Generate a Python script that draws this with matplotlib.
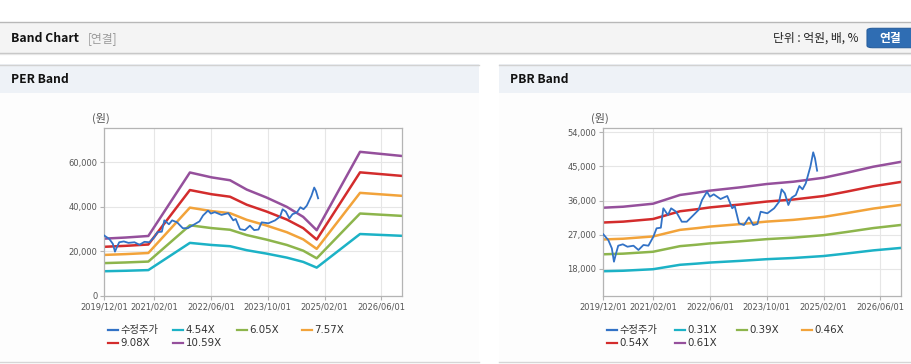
"""PER / PBR band chart (recreated)."""

import matplotlib

matplotlib.use("Agg")
import matplotlib.pyplot as plt
from matplotlib.lines import Line2D
from matplotlib.patches import FancyBboxPatch, Rectangle
from matplotlib.ticker import FuncFormatter

W, H = 912, 364

# x axis is months since 2019/12/01
date_ticks = [0, 14, 30, 46, 62, 78]
date_labels = ["2019/12/01", "2021/02/01", "2022/06/01", "2023/10/01", "2025/02/01", "2026/06/01"]
x_end = 83.9

# adjusted close (수정주가)
price_month = [0, 1.4, 2.4, 3.0, 3.6, 4.2, 5.5, 6.8, 8.5, 9.9, 11.3, 12.7, 14.1, 15.0,
               16.2, 16.9, 18.2, 19.1, 20.5, 22.1, 23.5, 25.4, 26.8, 27.8, 29.2, 30.0,
               31.1, 33.0, 34.9, 36.3, 37.0, 38.2, 39.6, 41.0, 42.2, 43.4, 44.3, 46.2,
               48.1, 49.5, 50.2, 51.1, 52.1, 53.0, 54.2, 55.2, 56.1, 57.0, 58.3, 59.1,
               59.6, 60.2]
price = [27080, 25570, 23380, 19850, 22060, 24070, 24440, 23800, 24070, 22940, 24260,
         24070, 26450, 28660, 28820, 33940, 32170, 33940, 33040, 30400, 30400, 32170,
         33490, 36130, 38320, 37000, 37630, 36390, 37190, 33940, 34550, 29980, 29530,
         31560, 29530, 29800, 33040, 32620, 33940, 35680, 38950, 37900, 34810, 36740,
         37450, 39830, 38950, 40530, 44920, 48720, 47140, 43870]

# PER bands
per_month = [0, 6, 12.4, 24.1, 30.2, 35.4, 40.1, 45.7, 51.4, 56, 59.8, 72, 84]
per_labels = ["4.54X", "6.05X", "7.57X", "9.08X", "10.59X"]
per_454 = [11020, 11230, 11530, 23790, 22850, 22290, 20490, 18950, 17150, 15220, 12650, 27780, 26960]
per_605 = [14680, 14970, 15370, 31710, 30450, 29710, 27310, 25250, 22850, 20280, 16850, 37020, 35930]
per_757 = [18370, 18730, 19230, 39670, 38100, 37170, 34170, 31590, 28590, 25380, 21090, 46320, 44960]
per_908 = [22030, 22460, 23060, 47590, 45700, 44580, 40980, 37900, 34300, 30440, 25290, 55560, 53930]
per_1059 = [25700, 26200, 26900, 55500, 53300, 52000, 47800, 44200, 40000, 35500, 29500, 64800, 62900]

# PBR bands
pbr_month = [0, 5.6, 14, 21.6, 26.3, 30, 38.5, 46, 53.5, 62, 68.6, 76, 84]
pbr_labels = ["0.31X", "0.39X", "0.46X", "0.54X", "0.61X"]
pbr_031 = [17330, 17460, 17860, 19030, 19340, 19620, 20060, 20510, 20820, 21340, 22020, 22830, 23500]
pbr_039 = [21800, 21970, 22470, 23950, 24330, 24680, 25230, 25800, 26190, 26850, 27700, 28720, 29560]
pbr_046 = [25720, 25910, 26510, 28250, 28700, 29110, 29760, 30430, 30890, 31670, 32680, 33870, 34870]
pbr_054 = [30190, 30420, 31110, 33160, 33690, 34170, 34940, 35720, 36260, 37180, 38360, 39760, 40930]
pbr_061 = [34100, 34360, 35150, 37460, 38060, 38600, 39470, 40350, 40960, 42000, 43330, 44920, 46240]

price_label = "수정주가"
price_color = "#3272c6"
band_colors = ["#1cb2c6", "#8db54c", "#f2a33a", "#d32c2c", "#95509c"]

plt.rcParams["font.family"] = ["DejaVu Sans", "Noto Sans CJK KR"]
KR = ["Noto Sans CJK KR", "DejaVu Sans"]


def fx(px):
    return px / W


def fy(py):
    return 1 - py / H


def rect(fig, x0, y0, x1, y1, color, z=0):
    fig.add_artist(Rectangle((fx(x0), fy(y1)), fx(x1) - fx(x0), fy(y0) - fy(y1),
                             transform=fig.transFigure, facecolor=color,
                             edgecolor="none", zorder=z))


def hline(fig, x0, x1, y, color, lw=1.0):
    fig.add_artist(Line2D([fx(x0), fx(x1)], [fy(y), fy(y)], transform=fig.transFigure,
                          color=color, linewidth=lw))


def band_axes(fig, left, ylim, yticks, bands, months, labels, legend_x):
    ax = fig.add_axes([fx(left), fy(295.7), 298 / W, 167.4 / H])
    ax.set_facecolor("white")
    ax.plot(price_month, price, color=price_color, linewidth=1.3, zorder=3)
    for vals, col in zip(bands, band_colors):
        ax.plot(months, vals, color=col, linewidth=1.8, zorder=2)
    ax.set_xlim(0, x_end)
    ax.set_ylim(*ylim)
    ax.set_xticks(date_ticks)
    ax.set_xticklabels(date_labels)
    ax.set_yticks(yticks)
    ax.yaxis.set_major_formatter(FuncFormatter(lambda v, p: f"{int(v):,}"))
    ax.grid(True, color="#e6e6e6", linewidth=0.8, zorder=0)
    for s in ax.spines.values():
        s.set_color("#b4b4b4")
        s.set_linewidth(0.9)
    ax.tick_params(axis="both", colors="#b4b4b4", labelcolor="#555555", labelsize=6.0,
                   length=3, width=0.8, pad=2)
    fig.text(fx(left - 3.5), fy(118), "(원)", family=KR, fontsize=8, color="#555555",
             ha="center", va="center")

    # legend
    names = [price_label] + labels
    colors = [price_color] + band_colors
    rows = [330, 330, 330, 330, 343.3, 343.3]
    for name, col, hx, ry in zip(names, colors, legend_x, rows):
        fig.add_artist(Line2D([fx(hx), fx(hx + 10.3)], [fy(ry), fy(ry)],
                              transform=fig.transFigure, color=col, linewidth=1.6))
        fig.text(fx(hx + 12.5), fy(ry), name, fontsize=7.4, color="#333333",
                 ha="left", va="center")
    return ax


fig = plt.figure(figsize=(W / 100, H / 100), dpi=100)
fig.patch.set_facecolor("white")

# page header
rect(fig, 0, 22, W, 52.7, "#f4f4f4")
hline(fig, 0, W, 22.3, "#b8b8b8", 1.0)
hline(fig, 0, W, 52.9, "#c4c4c4", 1.0)
hline(fig, 0, W, 54.0, "#e6e6e6", 0.9)
fig.text(fx(11), fy(38.5), "Band Chart", family=KR, fontweight="bold", fontsize=8.8,
         color="#111111", ha="left", va="center")
fig.text(fx(88), fy(38.5), "[연결]", family=KR, fontsize=8.5, color="#9a9a9a",
         ha="left", va="center")
fig.text(fx(859), fy(38.5), "단위 : 억원, 배, %", family=KR, fontsize=8.5,
         color="#222222", ha="right", va="center")
fig.add_artist(FancyBboxPatch((fx(867), fy(47.7)), fx(60), fy(0) - fy(19.4),
                              boxstyle="round,pad=0,rounding_size=0.006",
                              transform=fig.transFigure, facecolor="#2f6db3",
                              edgecolor="#285f9e", linewidth=0.8))
fig.text(fx(890), fy(38.3), "연결", family=KR, fontweight="bold", fontsize=8.5,
         color="white", ha="center", va="center")

# panel headers and bottoms
for x0, x1, title in [(0, 479, "PER Band"), (499.3, W, "PBR Band")]:
    rect(fig, x0, 64.3, x1, 92.7, "#eef2f7")
    rect(fig, x0, 92.7, x1, 361.5, "#fdfdfd")
    hline(fig, x0, x1, 64.6, "#d2d2d2", 1.0)
    hline(fig, x0, x1, 361.8, "#d6d6d6", 1.0)
    fig.text(fx(x0 + 11), fy(79.5), title, family=KR, fontweight="bold", fontsize=8.7,
             color="#111111", ha="left", va="center")

band_axes(fig, 104.3, (0, 75400), [0, 20000, 40000, 60000],
          [per_454, per_605, per_757, per_908, per_1059], per_month, per_labels,
          [107.7, 173, 237, 301.7, 107.7, 173])
band_axes(fig, 603.3, (10870, 55060), [18000, 27000, 36000, 45000, 54000],
          [pbr_031, pbr_039, pbr_046, pbr_054, pbr_061], pbr_month, pbr_labels,
          [606.7, 675, 736.7, 801.7, 606.7, 675])

fig.savefig("out.png", dpi=100, facecolor="white")
